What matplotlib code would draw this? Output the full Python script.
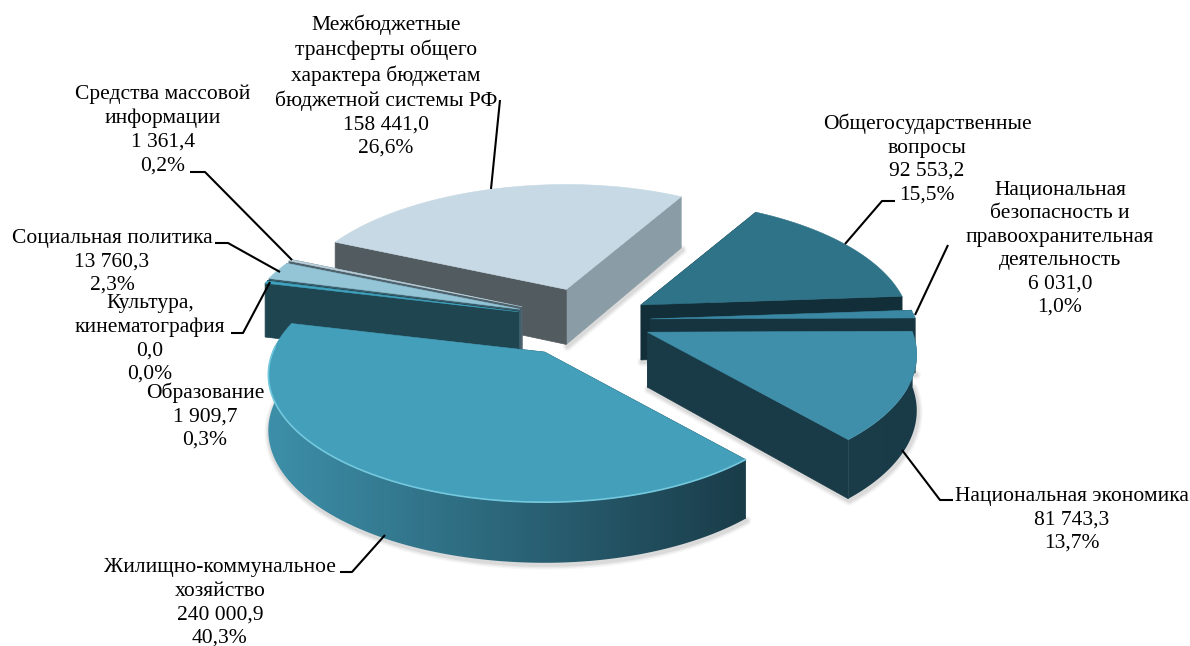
#круговая диаграмма с псевдо-3D (расходы бюджета)

import numpy as np
import matplotlib
matplotlib.use('Agg')
import matplotlib.pyplot as plt
from matplotlib.colors import LinearSegmentedColormap
from matplotlib.patches import Polygon

# Данные
names = ["Общегосударственные\nвопросы",
         "Национальная\nбезопасность и\nправоохранительная\nдеятельность",
         "Национальная экономика",
         "Жилищно-коммунальное\nхозяйство",
         "Образование",
         "Культура,\nкинематография",
         "Социальная политика",
         "Средства массовой\nинформации",
         "Межбюджетные\nтрансферты общего\nхарактера бюджетам\nбюджетной системы РФ"]
values = [92553.2, 6031.0, 81743.3, 240000.9, 1909.7, 0.0, 13760.3, 1361.4, 158441.0]
value_labels = ["92 553,2", "6 031,0", "81 743,3", "240 000,9", "1 909,7", "0,0",
                "13 760,3", "1 361,4", "158 441,0"]
percent_labels = ["15,5%", "1,0%", "13,7%", "40,3%", "0,3%", "0,0%", "2,3%", "0,2%", "26,6%"]

# Вид: цвета и вынос секторов
top_colors = ["#2F7388", "#3A88A3", "#3F8FAB", "#449FBA", "#3FA3BF", "#3FA3BF", "#93C5D7", "#BBD2DD", "#C6D9E4"]
front_colors = ["#122F39", "#16343F", "#193A47", "#1F4550", "#1F4550", "#1F4550", "#3A5E6C", "#50626C", "#8A9CA5"]
side_colors = ["#122F39", "#16343F", "#193A47", "#1F4550", "#1F4550", "#1F4550", "#3A5E6C", "#50626C", "#525B60"]
arc_left = ["#122F39", "#193A47", "#1B3D4A", "#3D8FA9", "#1F4550", "#1F4550", "#3A5E6C", "#50626C", "#525B60"]
arc_right = ["#122F39", "#16343F", "#193A47", "#1A3C49", "#1F4550", "#1F4550", "#3A5E6C", "#50626C", "#525B60"]
explode = [0.23, 0.23, 0.24, 0.305, 0.265, 0.265, 0.265, 0.265, 0.26]
draw_order = [8, 0, 1, 2, 7, 6, 5, 4, 3]

cx, cy = 588, 320
a_left, a_right, b, k = 272, 265, 123.5, 0.177
depth = 55
start_angle = 60

# Подписи: центр текста и линия-выноска
label_pos = [(927, 159), (1060, 249), (1072, 520), (220, 603), (205, 416),
             (150, 339), (112, 262), (163, 130), (386, 86)]
leaders = [[(895, 201), (882, 201), (845, 244)],
           [(948, 245), (915, 315)],
           [(953, 500), (940, 500), (902, 450)],
           [(340, 572), (352, 572), (385, 535)],
           None,
           [(231, 333), (243, 333), (270, 282)],
           [(215, 243), (228, 243), (280, 272)],
           [(190, 172), (205, 172), (292, 260)],
           [(500, 100), (491, 189)]]


def project(theta):
    """Точка дуги относительно вершины сектора, с учётом перспективы."""
    w = 1/(1 + k*np.sin(theta))
    a = np.where(np.cos(theta) < 0, a_left, a_right)
    return a*np.cos(theta)*w, -b*np.sin(theta)*w, depth*np.sqrt(w)


fig = plt.figure(figsize=(11.9, 6.46), dpi=100)
ax = fig.add_axes([0, 0, 1, 1])
ax.axis('off')

share = np.array(values)/np.sum(values)*360
ends = start_angle - np.cumsum(share)
starts = ends + share

for i in draw_order:
    t1, t2 = np.radians(starts[i]), np.radians(ends[i])
    mid = (t1 + t2)/2
    x0 = cx + explode[i]*a_left*np.cos(mid)
    y0 = cy - explode[i]*b*np.sin(mid)
    th = np.linspace(t1, t2, max(int(abs(t2 - t1)*60), 2))
    px, py, pd = project(th)
    px, py = x0 + px, y0 + py

    # мягкая тень под нижней кромкой
    front = np.sin(th) < 0.05
    if i in (2, 3):
        edge_x, edge_y = px[front], (py + pd)[front]
        if i == 2:
            edge_x, edge_y = np.r_[x0, edge_x[::-1]], np.r_[y0 + depth, edge_y[::-1]]
    else:
        edge_x, edge_y = np.r_[x0, px[-1]], np.r_[y0 + depth, py[-1] + pd[-1]]
    if i in (0, 1, 2, 3, 8):
        for lw, al in [(7, 0.05), (5, 0.07), (3, 0.10)]:
            ax.plot(edge_x + 1, edge_y + 2, color='#555555', lw=lw, alpha=al, solid_capstyle='round', zorder=1)

    z = 2 + draw_order.index(i)

    # боковые срезы
    ax.fill([x0, px[-1], px[-1], x0], [y0, py[-1], py[-1] + pd[-1], y0 + depth],
            color=front_colors[i], lw=0.5, zorder=z)
    ax.fill([x0, px[0], px[0], x0], [y0, py[0], py[0] + pd[0], y0 + depth],
            color=side_colors[i], lw=0.5, zorder=z)

    # внешняя стенка с градиентом по x
    if front.sum() > 1:
        wx, wy, wd = px[front], py[front], pd[front]
        outline = np.c_[np.r_[wx, wx[::-1]], np.r_[wy, (wy + wd)[::-1]]]
        cmap = LinearSegmentedColormap.from_list('wall', [arc_left[i], arc_right[i]])
        im = ax.imshow(np.linspace(0, 1, 256).reshape(1, -1), cmap=cmap, aspect='auto', zorder=z + 0.2,
                       extent=(wx.min(), wx.max() + 1, (wy + wd).max() + 1, wy.min() - 1))
        im.set_clip_path(Polygon(outline, closed=True, transform=ax.transData))

    # верхняя грань
    if share[i] > 0:
        ax.fill(np.r_[x0, px], np.r_[y0, py], color=top_colors[i], lw=0.4, zorder=z + 0.5)
    if i == 3:
        ax.plot(px[front], py[front], color='#74C8DE', lw=1.2, zorder=z + 0.6)

ax.set_xlim(0, 1190)
ax.set_ylim(646, 0)

# выноски и подписи
for i in range(len(names)):
    if leaders[i] is not None:
        ax.plot(*zip(*leaders[i]), color='black', lw=1.5, zorder=20, solid_capstyle='butt')
    text = names[i] + "\n" + value_labels[i] + "\n" + percent_labels[i]
    ax.text(label_pos[i][0], label_pos[i][1], text, ha='center', va='center', multialignment='center',
            family='Liberation Serif', fontsize=15.5, linespacing=1.31, color='black', zorder=30)

fig.savefig('out.png', dpi=100)
